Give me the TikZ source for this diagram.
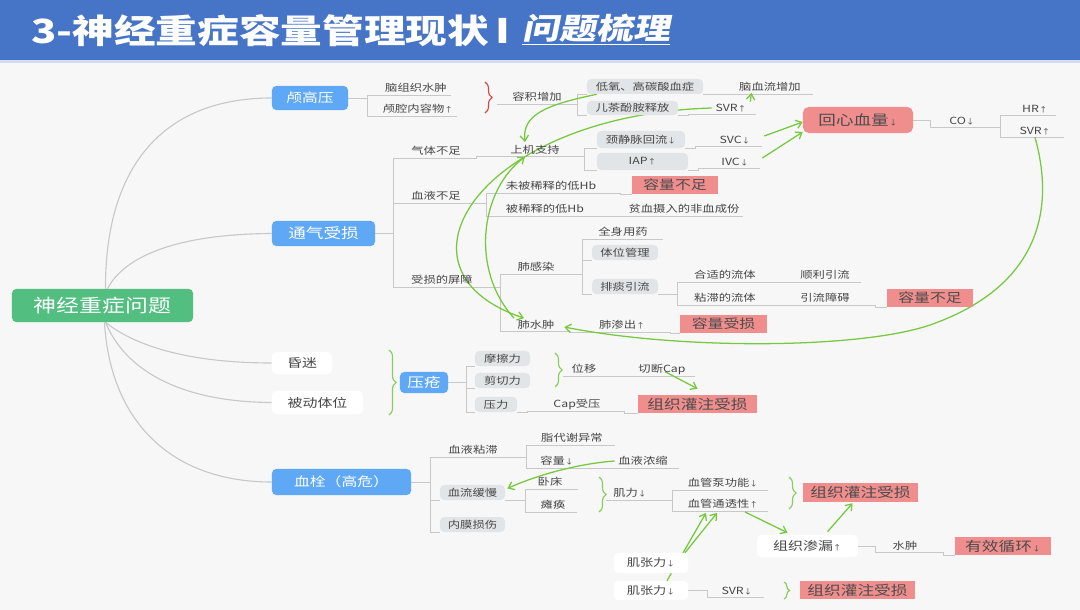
\documentclass[tikz,border=0pt]{standalone}
\usepackage{fontspec}
\setmainfont{Noto Sans CJK SC}[FakeStretch=1.25]
\newfontfamily\slantcjk{Noto Sans CJK SC}[FakeStretch=1.25,FakeSlant=0.2]
\usetikzlibrary{arrows.meta,calc,decorations.pathreplacing}
\definecolor{titleblue}{RGB}{70,116,198}
\definecolor{topicblue}{RGB}{95,168,245}
\definecolor{rootgreen}{RGB}{82,190,128}
\definecolor{boxgray}{RGB}{226,229,231}
\definecolor{boxred}{RGB}{240,142,142}
\definecolor{linkgreen}{RGB}{118,200,62}
\definecolor{bracegreen}{RGB}{135,205,90}
\definecolor{bracered}{RGB}{215,70,70}
\definecolor{treegray}{RGB}{200,200,200}
\definecolor{txt}{RGB}{70,70,70}
\definecolor{bgcol}{RGB}{247,247,247}
\newcommand\arrU{{\fontsize{5}{5}\selectfont ↑}}
\newcommand\arrD{{\fontsize{5}{5}\selectfont ↓}}
\pgfdeclarelayer{back}
\pgfdeclarelayer{bg}
\pgfsetlayers{back,bg,main}

\begin{document}
\begin{tikzpicture}[x=0.025cm, y=-0.025cm,
  lbl/.style={inner xsep=2.5pt, inner ysep=1.5pt, text=txt, font=\fontsize{7}{8}\selectfont},
  gbox/.style={fill=boxgray, rounded corners=3pt, inner sep=0pt, text=txt, font=\fontsize{7}{8}\selectfont},
  rbox/.style={fill=boxred, inner sep=0pt, text=black!70, font=\fontsize{9}{10}\selectfont},
  topic/.style={fill=topicblue, rounded corners=3pt, inner sep=0pt, text=white, font=\fontsize{9}{10}\selectfont},
  wbox/.style={fill=white, rounded corners=3pt, inner sep=0pt, text=txt, font=\fontsize{8.5}{10}\selectfont},
  tree/.style={draw=treegray, line width=0.6pt},
  link/.style={draw=linkgreen, line width=0.9pt, -{Straight Barb[length=4pt,width=6pt]}},
  brc/.style={decorate, decoration={brace, amplitude=5pt}, line width=0.8pt}]
\useasboundingbox (0,0) rectangle (1080,610);
\begin{pgfonlayer}{back}
\fill[bgcol] (0,0) rectangle (1080,610);
\fill[titleblue] (0,0) rectangle (1080,60);
\fill[titleblue!25] (0,60) rectangle (1080,63);
\end{pgfonlayer}

% title
\node[anchor=west, inner sep=0pt, text=white, font=\fontsize{23.7}{28}\selectfont\bfseries] (ttl) at (31,31) {3-神经重症容量管理现状};
\node[inner sep=0pt, text=white, font=\fontsize{24}{30}\selectfont\bfseries] (bar) at (503,31) {I};
\node[anchor=west, inner sep=0pt, text=white, font=\fontsize{21}{26}\selectfont\bfseries\slantcjk] (ttl2) at (522,30) {\underline{问题梳理}};

% root and topics
\node[fill=rootgreen, rounded corners=3pt, text=white, font=\fontsize{13}{15}\selectfont, minimum width=4.525cm, minimum height=0.825cm, inner sep=0pt] (root) at (102.5,305.5) {神经重症问题};
\node[topic, minimum width=1.9cm, minimum height=0.6cm] (icp) at (310,98) {颅高压};
\node[topic, minimum width=2.575cm, minimum height=0.625cm, font=\fontsize{10}{11}\selectfont] (vent0) at (323.5,233.5) {通气受损};
\node[wbox, minimum width=1.5cm, minimum height=0.55cm] (coma) at (302,363) {昏迷};
\node[wbox, minimum width=2.275cm, minimum height=0.575cm] (pos) at (317.5,402.5) {被动体位};
\node[topic, minimum width=3.475cm, minimum height=0.65cm] (thr) at (341.5,482) {血栓（高危）};
\node[topic, minimum width=1.2cm, minimum height=0.525cm, font=\fontsize{9.5}{10}\selectfont] (pu) at (424,382.5) {压疮};

% 颅高压
\node[lbl] (edema) at (416,88) {脑组织水肿};
\node[lbl] (icc) at (418,109) {颅腔内容物\arrU};
\node[lbl, minimum width=2cm] (vol) at (537,97) {容积增加};
\node[gbox, minimum width=2.9cm, minimum height=0.375cm] (hyp) at (645,86.5) {低氧、高碳酸血症};
\node[gbox, minimum width=2.275cm, minimum height=0.35cm] (cat) at (632.5,108) {儿茶酚胺释放};
\node[lbl] (cbf) at (770,87) {脑血流增加};
\node[lbl] (svra) at (731,108) {SVR\arrU};

% 通气受损
\node[lbl] (gas) at (436,151) {气体不足};
\node[lbl] (blood) at (436,196) {血液不足};
\node[lbl] (barr) at (442,280) {受损的屏障};
\node[lbl] (mv) at (535,150) {上机支持};
\node[gbox, minimum width=2.2cm, minimum height=0.425cm] (jvr) at (641,139.5) {颈静脉回流\arrD};
\node[gbox, minimum width=2.275cm, minimum height=0.425cm] (iap) at (642.5,161.5) {IAP\arrU};
\node[lbl] (svc) at (735,140) {SVC\arrD};
\node[lbl] (ivc) at (735,162) {IVC\arrD};
\node[rbox, minimum width=2.75cm, minimum height=0.65cm, rounded corners=4pt, font=\fontsize{10}{11}\selectfont] (rhv) at (858,120) {回心血量\arrD};
\node[lbl] (co) at (962,121) {CO\arrD};
\node[lbl] (hr) at (1035,109) {HR\arrU};
\node[lbl] (sv2) at (1035,131) {SVR\arrU};
\node[lbl] (uhb) at (551,186) {未被稀释的低Hb};
\node[lbl] (dhb) at (545,209) {被稀释的低Hb};
\node[rbox, minimum width=2.15cm, minimum height=0.45cm] (vs1) at (675,185) {容量不足};
\node[lbl] (anem) at (684,209) {贫血摄入的非血成份};
\node[lbl] (inf) at (536,267) {肺感染};
\node[lbl] (pe) at (536,325) {肺水肿};
\node[lbl] (drug) at (623,232) {全身用药};
\node[gbox, minimum width=1.65cm, minimum height=0.375cm] (posm) at (625,252.5) {体位管理};
\node[gbox, minimum width=1.65cm, minimum height=0.375cm] (spu) at (625,286.5) {排痰引流};
\node[lbl] (fit) at (725,275) {合适的流体};
\node[lbl] (vis) at (725,298) {粘滞的流体};
\node[lbl] (smooth) at (825,275) {顺利引流};
\node[lbl] (obst) at (825,298) {引流障碍};
\node[rbox, minimum width=2.15cm, minimum height=0.45cm] (vs2) at (930,298) {容量不足};
\node[lbl] (exud) at (622,325) {肺渗出\arrU};
\node[rbox, minimum width=2.175cm, minimum height=0.45cm] (vd) at (723.5,324) {容量受损};

% 压疮
\node[gbox, minimum width=1.375cm, minimum height=0.375cm] (fric) at (502.5,358.5) {摩擦力};
\node[gbox, minimum width=1.375cm, minimum height=0.375cm] (shear) at (502.5,380.5) {剪切力};
\node[gbox, minimum width=1.05cm, minimum height=0.375cm] (pres) at (496,404.5) {压力};
\node[lbl] (disp) at (584,369) {位移};
\node[lbl] (cut) at (662,369) {切断Cap};
\node[lbl] (capc) at (577,404) {Cap受压};
\node[rbox, minimum width=2.975cm, minimum height=0.45cm, font=\fontsize{9.5}{10}\selectfont] (ptd1) at (697.5,404) {组织灌注受损};

% 血栓
\node[lbl] (visc) at (473,450) {血液粘滞};
\node[gbox, minimum width=1.625cm, minimum height=0.375cm] (slow) at (472.5,492.5) {血流缓慢};
\node[gbox, minimum width=1.625cm, minimum height=0.375cm] (endo) at (472.5,524.5) {内膜损伤};
\node[lbl] (lipid) at (572,438) {脂代谢异常};
\node[lbl] (volu) at (557,461) {容量\arrD};
\node[lbl] (conc) at (643,461) {血液浓缩};
\node[lbl] (bed) at (550,482) {卧床};
\node[lbl] (para) at (553,505) {瘫痪};
\node[lbl] (mus) at (630,493) {肌力\arrD};
\node[lbl] (pump) at (723,483) {血管泵功能\arrD};
\node[lbl] (perm) at (723,504) {血管通透性\arrU};
\node[rbox, minimum width=2.875cm, minimum height=0.475cm, font=\fontsize{9.5}{10}\selectfont] (ptd2) at (860.5,492.5) {组织灌注受损};
\node[wbox, minimum width=2.525cm, minimum height=0.55cm] (leak) at (807.5,546) {组织渗漏\arrU};
\node[lbl] (edema2) at (905,546) {水肿};
\node[rbox, minimum width=2.4cm, minimum height=0.45cm, font=\fontsize{9.5}{10}\selectfont] (ec) at (1003,546) {有效循环\arrD};
\node[wbox, minimum width=1.85cm, minimum height=0.5cm, font=\fontsize{7.5}{9}\selectfont] (mt1) at (651,563) {肌张力\arrD};
\node[wbox, minimum width=1.85cm, minimum height=0.475cm, font=\fontsize{7.5}{9}\selectfont] (mt2) at (651,590.5) {肌张力\arrD};
\node[lbl] (svr3) at (737,591) {SVR\arrD};
\node[rbox, minimum width=2.875cm, minimum height=0.45cm, font=\fontsize{9.5}{10}\selectfont] (ptd3) at (857.5,590) {组织灌注受损};

% braces
\draw[brc, draw=bracered] (485,82) -- (485,113);
\draw[brc, draw=bracegreen] (389,350) -- (389,415);
\draw[brc, draw=bracegreen] (555,353) -- (555,387);
\draw[brc, draw=bracegreen] (599,477) -- (599,512);
\draw[brc, draw=bracegreen] (789,477) -- (789,509);
\draw[brc, draw=bracegreen, decoration={amplitude=4pt}] (784,582) -- (784,599);

\begin{pgfonlayer}{bg}
% root curves
\draw[tree, line width=0.8pt] ($(root.north)+(3,0)$) .. controls (105,170) and (160,98) .. (icp.west);
\draw[tree, line width=0.8pt] ($(root.north)+(5,0)$) .. controls (125,255) and (180,234) .. (vent0.west);
\draw[tree, line width=0.8pt] ($(root.south)+(3,0)$) .. controls (140,350) and (200,363) .. (coma.west);
\draw[tree, line width=0.8pt] ($(root.south)+(3,0)$) .. controls (125,370) and (180,402) .. (pos.west);
\draw[tree, line width=0.8pt] ($(root.south)+(2,0)$) .. controls (110,420) and (170,482) .. (thr.west);

% tree lines
\draw[tree] (icp.east) -- ++(19,0) |- (edema.south west) -- (edema.south east);
\draw[tree] (icp.east) -- ++(19,0) |- (icc.south west) -- (icc.south east);
\draw[tree] (vol.south west) -- (vol.south east);
\draw[tree] (vol.south east) |- (hyp.south west);
\draw[tree] (vol.south east) |- (cat.south west);
\draw[tree] (hyp.south east) -- ++(10,0) |- (cbf.south west) -- ($(cbf.south east)+(8,0)$);
\draw[tree] (cat.south east) -- ++(10,0) |- (svra.south west) -- ($(svra.south east)+(6,0)$);
\draw[tree] (vent0.east) -- ++(18,0) |- (gas.south west) -- (gas.south east);
\draw[tree] (vent0.east) -- ++(18,0) |- (blood.south west) -- (blood.south east);
\draw[tree] (vent0.east) -- ++(18,0) |- (barr.south west) -- (barr.south east);
\draw[tree] (gas.south east) -- ++(12,0) |- (mv.south west) -- (mv.south east);
\draw[tree] (mv.south east) -- ++(21,0) |- (jvr.south west);
\draw[tree] (mv.south east) -- ++(21,0) |- (iap.south west);
\draw[tree] (jvr.south east) -- ++(10,0) |- (svc.south west) -- ($(svc.south east)+(8,0)$);
\draw[tree] (iap.south east) -- ++(10,0) |- (ivc.south west) -- ($(ivc.south east)+(8,0)$);
\draw[tree] (rhv.east) -- ++(17,0) |- (co.south west) -- ($(co.south east)+(22,0)$);
\draw[tree] ($(co.south east)+(22,0)$) |- (hr.south west) -- ($(hr.south east)+(4,0)$);
\draw[tree] ($(co.south east)+(22,0)$) |- (sv2.south west) -- ($(sv2.south east)+(10,0)$);
\draw[tree] (blood.south east) -- ++(22,0) |- (uhb.south west) -- (uhb.south east);
\draw[tree] (blood.south east) -- ++(22,0) |- (dhb.south west) -- (dhb.south east);
\draw[tree] (uhb.south east) -- ++(20,0) |- (vs1.south west);
\draw[tree] (dhb.south east) -- ++(20,0) |- (anem.south west) -- (anem.south east);
\draw[tree] (barr.south east) -- ++(24,0) |- (inf.south west) -- (inf.south east);
\draw[tree] (barr.south east) -- ++(24,0) |- (pe.south west) -- (pe.south east);
\draw[tree] (inf.south east) -- ++(24,0) |- (drug.south west) -- ($(drug.south east)+(12,0)$);
\draw[tree] (inf.south east) -- ++(24,0) |- (posm.south west);
\draw[tree] (inf.south east) -- ++(24,0) |- (spu.south west);
\draw[tree] (spu.south east) -- ++(19,0) |- (fit.south west) -- (fit.south east);
\draw[tree] (spu.south east) -- ++(19,0) |- (vis.south west) -- (vis.south east);
\draw[tree] (fit.south east) -- ++(10,0) |- (smooth.south west) -- ($(smooth.south east)+(8,0)$);
\draw[tree] (vis.south east) -- ++(10,0) |- (obst.south west) -- ($(obst.south east)+(22,0)$) |- (vs2.south west);
\draw[tree] (pe.south east) -- ++(12,0) |- (exud.south west) -- ($(exud.south east)+(22,0)$) |- (vd.south west);
\draw[tree] (pu.east) -- ++(18,0) |- (fric.south west);
\draw[tree] (pu.east) -- ++(18,0) |- (shear.south west);
\draw[tree] (pu.east) -- ++(18,0) |- (pres.south west);
\draw[tree] ($(disp.south west)+(-5,0)$) -- (disp.south east) -- ++(12,0) |- (cut.south west) -- ($(cut.south east)+(6,0)$);
\draw[tree] (pres.south east) -- ++(10,0) |- (capc.south west) -- ($(capc.south east)+(20,0)$) |- (ptd1.south west);
\draw[tree] (thr.east) -- ++(19,0) |- (visc.south west) -- (visc.south east);
\draw[tree] (thr.east) -- ++(19,0) |- (slow.south west);
\draw[tree] (thr.east) -- ++(19,0) |- (endo.south west);
\draw[tree] (visc.south east) -- ++(25,0) |- (lipid.south west) -- ($(lipid.south east)+(8,0)$);
\draw[tree] (visc.south east) -- ++(25,0) |- (volu.south west) -- (volu.south east) -- ++(20,0) |- (conc.south west) -- ($(conc.south east)+(8,0)$);
\draw[tree] (slow.south east) -- ++(20,0) |- (bed.south west) -- ($(bed.south east)+(12,0)$);
\draw[tree] (slow.south east) -- ++(20,0) |- (para.south west) -- ($(para.south east)+(8,0)$);
\draw[tree] ($(mus.south west)+(-4,0)$) -- (mus.south east) -- ++(22,0) |- (pump.south west) -- ($(pump.south east)+(6,0)$);
\draw[tree] (mus.south east) -- ++(22,0) |- (perm.south west) -- ($(perm.south east)+(6,0)$);
\draw[tree] (leak.east) -- ++(17,0) |- (edema2.south west) -- (edema2.south east) -- ++(22,0) |- (ec.south west);
\draw[tree] (mt2.east) -- ++(19,0) |- (svr3.south west) -- ($(svr3.south east)+(8,0)$);

% green links
\draw[link] ($(hyp.south west)+(10,0)$) .. controls (545,105) and (522,115) .. ($(mv.north)+(-10,-1)$);
\draw[link] (svra.west) .. controls (480,115) and (380,270) .. ($(pe.north)+(-12,0)$);
\draw[link] ($(pe.north)+(-22,0)$) .. controls (470,270) and (480,190) .. ($(mv.south)+(-10,0)$);
\draw[link] (sv2.south) .. controls (1058,220) and (1030,290) .. (930,325) .. controls (860,349) and (680,350) .. ($(pe.east)+(6,2)$);
\draw[link] (svra.north east) -- ($(cbf.south west)+(16,-1)$);
\draw[link] ($(svc.east)+(10,-4)$) -- ($(rhv.west)+(0,2)$);
\draw[link] ($(ivc.east)+(10,-4)$) -- ($(rhv.west)+(0,12)$);
\draw[link] ($(cut.south)+(3,-5)$) -- ($(ptd1.north)+(0,-6)$);
\draw[link] (conc.west) .. controls (575,464) and (535,476) .. ($(slow.east)+(2,-4)$);
\draw[link] ($(perm.south east)+(-17,1)$) -- ($(leak.north)+(-20,-2)$);
\draw[link] ($(leak.north)+(20,-3)$) -- ($(ptd2.south)+(-8,1)$);
\draw[link] ($(mt2.north)+(16,0)$) -- ($(perm.south)+(-17,2)$);
\draw[link] ($(mt1.north)+(34,0)$) -- ($(perm.south)+(-6,2)$);
\end{pgfonlayer}
\end{tikzpicture}
\end{document}
